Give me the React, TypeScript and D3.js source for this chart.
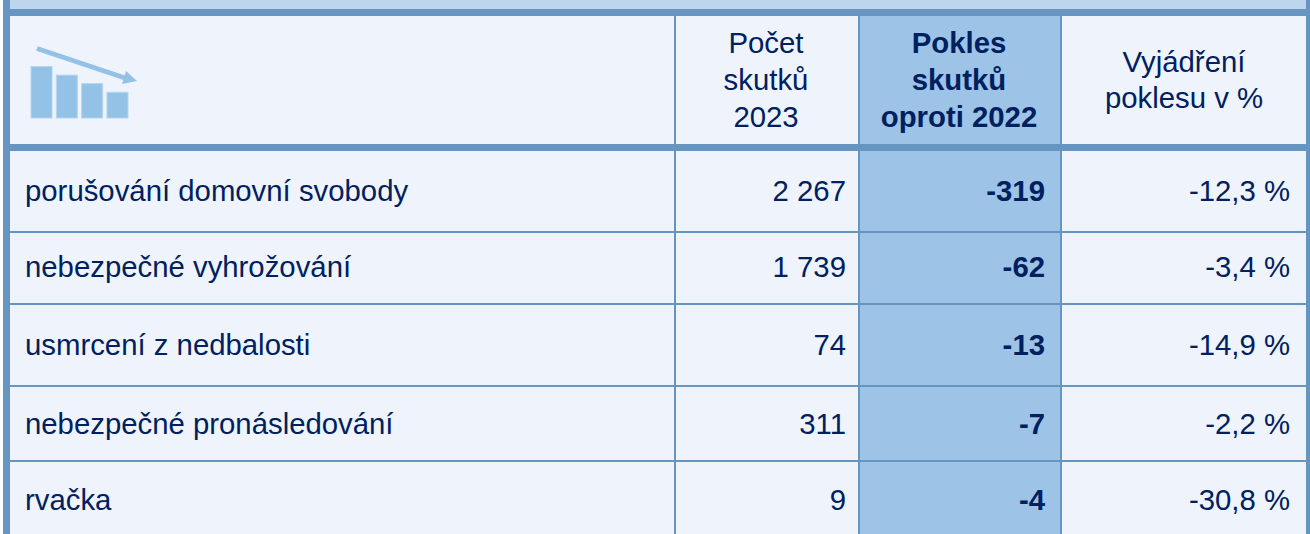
import React from "react";
import * as d3 from "d3";

const categories = [
  "porušování domovní svobody",
  "nebezpečné vyhrožování",
  "usmrcení z nedbalosti",
  "nebezpečné pronásledování",
  "rvačka",
];
const counts2023 = [2267, 1739, 74, 311, 9];
const drops = [-319, -62, -13, -7, -4];
const dropPercents = [-12.3, -3.4, -14.9, -2.2, -30.8];
const iconBars = [4, 3.33, 2.67, 2];

const headerCount = ["Počet", "skutků", "2023"];
const headerDrop = ["Pokles", "skutků", "oproti 2022"];
const headerPercent = ["Vyjádření", "poklesu v %"];

const W = 1310;
const H = 534;
const FONT = "Liberation Sans, Arial, sans-serif";
const FS = 29.33;
const INK = "#002060";
const LINE = "#6695c2";
const CELL = "#eff4fc";
const HILITE = "#9dc3e6";
const TOPBAND = "#bdd6ee";
const ICON = "#93c2e6";

// row edges and baselines
const rowEdges = [232, 304, 386, 461];
const rowBaselines = [201, 277, 355, 434, 510];

const fmtCount = (v: number) => d3.format(",")(v).replace(/,/g, " ");
const fmtPercent = (v: number) => v.toFixed(1).replace(".", ",") + " %";

const iconX = d3.scaleBand<number>().domain(d3.range(iconBars.length)).range([31, 128]).paddingInner(0.17).paddingOuter(0);
const iconY = d3.scaleLinear().domain([0, 4]).range([118, 66.5]);

function HeaderText({ lines, cx, y0, step, bold }: { lines: string[]; cx: number; y0: number; step: number; bold?: boolean }) {
  return (
    <text textAnchor="middle" fontFamily={FONT} fontSize={FS} fontWeight={bold ? 700 : 400} fill={INK}>
      {lines.map((l, i) => (
        <tspan key={i} x={cx} y={y0 + i * step}>
          {l}
        </tspan>
      ))}
    </text>
  );
}

export default function App() {
  return (
    <svg
      width={W}
      height={H}
      viewBox={`0 0 ${W} ${H}`}
      style={{ position: "absolute", left: 0, top: 0, display: "block" }}
    >
      <rect x={0} y={0} width={W} height={H} fill="#ffffff" />
      <rect x={3} y={0} width={1303} height={9} fill={TOPBAND} />
      <rect x={10} y={16} width={1296} height={518} fill={CELL} />
      <rect x={859} y={16} width={202} height={518} fill={HILITE} />

      {/* grid */}
      {rowEdges.map((y) => (
        <rect key={y} x={10} y={y - 1} width={1296} height={2} fill={LINE} />
      ))}
      <rect x={674} y={16} width={2} height={518} fill={LINE} />
      <rect x={858} y={16} width={2} height={518} fill={LINE} />
      <rect x={1060} y={16} width={2} height={518} fill={LINE} />
      <rect x={1306} y={0} width={4} height={534} fill={LINE} />
      <rect x={3} y={0} width={7} height={534} fill={LINE} />
      <rect x={3} y={9} width={1303} height={7} fill={LINE} />
      <rect x={3} y={144} width={1303} height={7} fill={LINE} />

      {/* icon */}
      {iconBars.map((v, i) => (
        <rect
          key={i}
          x={iconX(i)}
          y={iconY(v)}
          width={iconX.bandwidth()}
          height={iconY(0) - iconY(v)}
          fill={ICON}
          stroke="#b5d6ef"
          strokeWidth={1}
        />
      ))}
      <line x1={37} y1={48.5} x2={125} y2={78} stroke={ICON} strokeWidth={5} />
      <polygon points="137,81 122,84 126,71" fill={ICON} />

      {/* header */}
      <HeaderText lines={headerCount} cx={766} y0={53} step={37} />
      <HeaderText lines={headerDrop} cx={959} y0={53} step={37} bold />
      <HeaderText lines={headerPercent} cx={1184} y0={72} step={36} />

      {/* rows */}
      <g fontFamily={FONT} fontSize={FS} fill={INK}>
        {categories.map((c, i) => (
          <g key={c}>
            <text x={25} y={rowBaselines[i]}>
              {c}
            </text>
            <text x={846} y={rowBaselines[i]} textAnchor="end">
              {fmtCount(counts2023[i])}
            </text>
            <text x={1045} y={rowBaselines[i]} textAnchor="end" fontWeight={700}>
              {drops[i]}
            </text>
            <text x={1290} y={rowBaselines[i]} textAnchor="end">
              {fmtPercent(dropPercents[i])}
            </text>
          </g>
        ))}
      </g>
    </svg>
  );
}
